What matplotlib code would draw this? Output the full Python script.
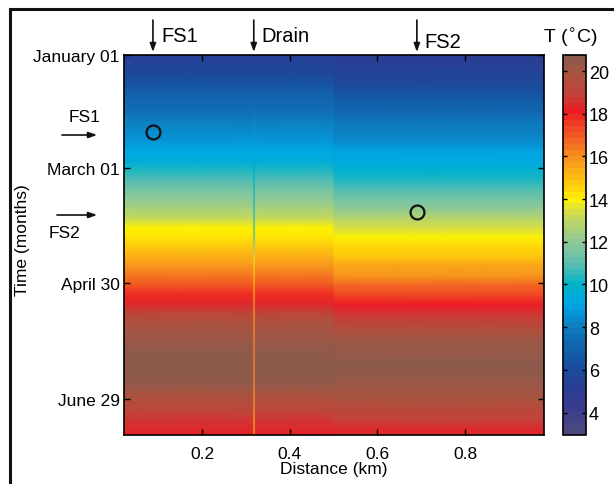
import numpy as np
import matplotlib
matplotlib.use("Agg")
import matplotlib.pyplot as plt
from matplotlib.colors import LinearSegmentedColormap
from matplotlib.patches import Rectangle

plt.rcParams['font.family'] = ['Liberation Sans', 'DejaVu Sans']

# ---- data ----
days = [0, 5, 10, 15, 20, 25, 30, 35, 40, 45, 50, 55, 60, 65, 70, 75, 80, 85, 90, 95,
        100, 105, 110, 115, 120, 125, 130, 135, 140, 145, 150, 155, 160, 165, 170, 175,
        180, 185, 190, 195, 200]
temp_upstream = [5.3, 5.5, 5.9, 6.5, 6.9, 7.2, 7.6, 8.0, 8.4, 8.7, 9.1, 9.6, 10.3, 10.9,
                 11.4, 11.9, 12.5, 13.2, 13.8, 14.3, 14.8, 15.4, 16.0, 16.5, 17.0, 17.8,
                 18.5, 19.1, 19.7, 20.1, 20.4, 20.6, 20.7, 20.6, 20.5, 20.1, 19.6, 19.2,
                 18.8, 18.4, 18.2]
temp_downstream = [5.0, 5.2, 5.5, 6.0, 6.5, 6.9, 7.3, 7.7, 8.1, 8.5, 8.8, 9.2, 9.7, 10.4,
                   11.0, 11.5, 12.1, 12.7, 13.5, 14.0, 14.4, 14.9, 15.5, 16.0, 16.6, 17.3,
                   18.1, 18.7, 19.3, 19.8, 20.2, 20.4, 20.6, 20.6, 20.4, 20.1, 19.7, 19.3,
                   18.9, 18.5, 18.3]
temp_drain = [5.3, 5.5, 5.9, 6.5, 7.0, 7.4, 7.9, 8.3, 8.7, 9.0, 9.3, 9.6, 9.9, 10.1,
              10.2, 10.3, 10.4, 10.5, 10.6, 11.0, 12.0, 13.5, 14.5, 15.0, 15.4, 15.7,
              15.9, 16.0, 16.0, 16.1, 16.2, 16.2, 16.2, 16.2, 16.1, 16.0, 15.9, 15.8,
              15.7, 15.6, 15.5]
# columns: distance (km) and which series feeds each column
col_dist = [0.022, 0.316, 0.319, 0.322, 0.497, 0.503, 0.98]
col_series = ['up', 'up', 'drain', 'up', 'up', 'down', 'down']

date_ticks = [0, 59, 119, 179]
date_labels = ['January 01', 'March 01', 'April 30', 'June 29']
x_ticks = [0.2, 0.4, 0.6, 0.8]
cbar_ticks = [4, 6, 8, 10, 12, 14, 16, 18, 20]

fs_points_x = [0.088, 0.69]
fs_points_day = [40, 82]

# ---- colormap ----
vmin, vmax = 2.95, 20.75
anchors = [(3.0, '#4c4a7c'), (4.0, '#3b3d8e'), (5.0, '#2a3d93'), (6.0, '#1a4c9c'),
           (7.0, '#1262ad'), (8.0, '#0d7fc1'), (9.0, '#00a6e6'), (10.0, '#00b3c8'),
           (11.0, '#5fbeb0'), (12.0, '#8fc996'), (13.0, '#bcd566'), (13.6, '#e2e33a'),
           (14.0, '#fef200'), (14.6, '#fed20a'),
           (15.3, '#fbb316'), (16.0, '#f7941d'), (17.0, '#f15a24'), (18.2, '#ed1c24'),
           (19.0, '#c4413a'), (20.0, '#a85440'), (20.75, '#8e5a4c')]
pos = [(v - vmin) / (vmax - vmin) for v, _ in anchors]
pos[0] = 0.0
pos[-1] = 1.0
cmap = LinearSegmentedColormap.from_list('tcm', list(zip(pos, [c for _, c in anchors])), N=64)

series = {'up': temp_upstream, 'down': temp_downstream, 'drain': temp_drain}
C = np.array([series[s] for s in col_series]).T
X, Y = np.meshgrid(col_dist, days)

fig = plt.figure(figsize=(6.14, 4.85), dpi=100)
ax = fig.add_axes([124/614, 1-436/485, 420/614, 380/485])
cax = fig.add_axes([563/614, 1-436/485, 23/614, 380/485])

pm = ax.pcolormesh(X, Y, C, cmap=cmap, vmin=vmin, vmax=vmax, shading='gouraud')
ax.set_xlim(0.022, 0.98)
ax.set_ylim(198, 0)
ax.set_xticks(x_ticks)
ax.set_xticklabels([f'{v:.1f}' for v in x_ticks])
ax.set_yticks(date_ticks)
ax.set_yticklabels(date_labels)
ax.tick_params(direction='in', top=True, right=True, labelsize=12.5, length=4, width=1, pad=3)
ax.tick_params(axis='x', pad=8)
for s in ax.spines.values():
    s.set_linewidth(1.2)
ax.set_xlabel('Distance (km)', fontsize=12.5, labelpad=0)
ax.set_ylabel('Time (months)', fontsize=12.5)
ax.yaxis.set_label_coords(-0.224, 0.516)

ax.plot(fs_points_x, fs_points_day, 'o', mfc='none', mec='#111111', ms=10, mew=1.6)

cb = fig.colorbar(pm, cax=cax, ticks=cbar_ticks)
cb.ax.tick_params(direction='in', left=True, right=True, labelsize=13, length=3, width=1, pad=2)
cb.outline.set_linewidth(1.2)

# top arrows and labels
arrow_kw = dict(arrowstyle='-|>,head_length=0.5,head_width=0.18', color='#111111', lw=1.2,
                shrinkA=0, shrinkB=0)
for xd, lab, ty in [(0.088, 'FS1', 1.05), (0.318, 'Drain', 1.05), (0.69, 'FS2', 1.035)]:
    ax.annotate('', xy=(xd, 1.008), xycoords=('data', 'axes fraction'),
                xytext=(xd, 1.092), textcoords=('data', 'axes fraction'),
                arrowprops=arrow_kw, annotation_clip=False)
    ax.annotate(lab, xy=(xd, ty), xycoords=('data', 'axes fraction'),
                xytext=(8, 0), textcoords='offset pixels', fontsize=14.5,
                ha='left', va='center', annotation_clip=False)

# left arrows and labels
fig.text(85/614, 1-117/485, 'FS1', fontsize=12.5, ha='center', va='center')
fig.text(64/614, 1-234/485, 'FS2', fontsize=12.5, ha='center', va='center')
ax.annotate('', xy=(97, 485-136), xycoords='figure pixels', xytext=(62, 485-136),
            textcoords='figure pixels', arrowprops=arrow_kw)
ax.annotate('', xy=(97, 485-216), xycoords='figure pixels', xytext=(57, 485-216),
            textcoords='figure pixels', arrowprops=arrow_kw)

fig.text(570/614, 1-38/485, r'T ($^{\circ}$C)', fontsize=14, ha='center', va='center')

# outer frame
fig.patches.append(Rectangle((10/614, -0.2), 1.2, 0.2 + (1-10/485), transform=fig.transFigure,
                             fill=False, edgecolor='#111111', lw=2.2))

fig.savefig('out.png', dpi=100)
